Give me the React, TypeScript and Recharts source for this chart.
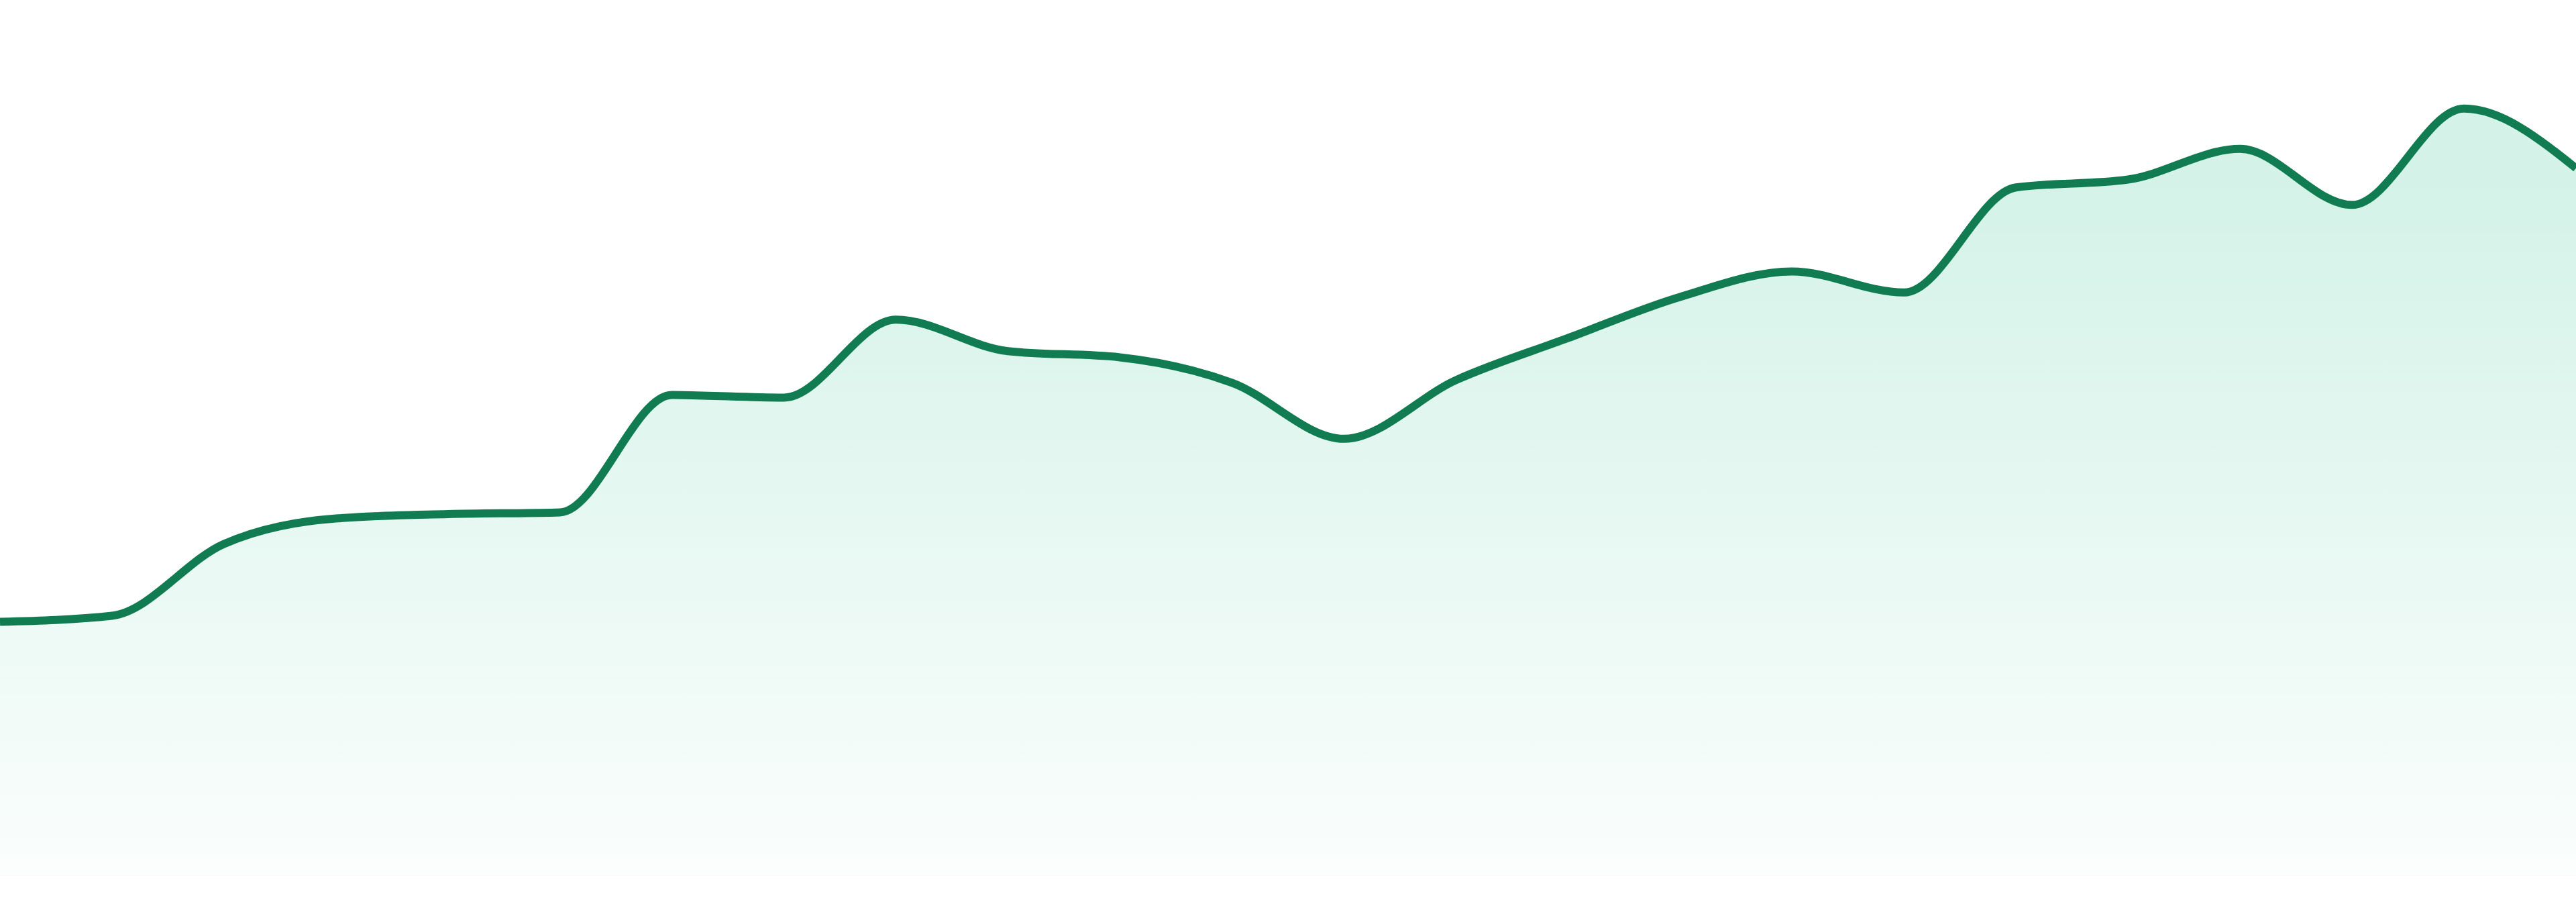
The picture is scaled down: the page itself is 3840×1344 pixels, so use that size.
import React from 'react';
import { AreaChart, Area, XAxis, YAxis } from 'recharts';

const categories = [
  'P01', 'P02', 'P03', 'P04', 'P05', 'P06', 'P07', 'P08', 'P09', 'P10', 'P11', 'P12',
  'P13', 'P14', 'P15', 'P16', 'P17', 'P18', 'P19', 'P20', 'P21', 'P22', 'P23', 'P24',
];

const values = [
  29.0, 29.7, 37.9, 40.8, 41.3, 41.5, 54.9, 54.6, 63.5, 59.9, 59.2, 56.3,
  49.9, 56.6, 61.4, 66.1, 69.0, 66.6, 78.6, 79.5, 83.0, 76.6, 87.6, 80.8,
];

const yDomain: [number, number] = [0, 100];

const data = categories.map((name, i) => ({ name, value: values[i] }));

export default function App() {
  return (
    <div style={{ position: 'absolute', left: 0, top: 0, width: 3840, height: 1344, background: '#ffffff' }}>
      <AreaChart width={3840} height={1344} data={data} margin={{ top: 0, right: 0, bottom: 39, left: 0 }}>
        <defs>
          <linearGradient id="fillGrad" x1="0" y1="0" x2="0" y2="1">
            <stop offset="10%" stopColor="#10b981" stopOpacity={0.3} />
            <stop offset="100%" stopColor="#10b981" stopOpacity={0.03} />
          </linearGradient>
        </defs>
        <XAxis dataKey="name" hide />
        <YAxis domain={yDomain} hide />
        <Area
          type="monotone"
          dataKey="value"
          stroke="#117c51"
          strokeWidth={12}
          fill="url(#fillGrad)"
          dot={false}
          activeDot={false}
          isAnimationActive={false}
        />
      </AreaChart>
    </div>
  );
}
